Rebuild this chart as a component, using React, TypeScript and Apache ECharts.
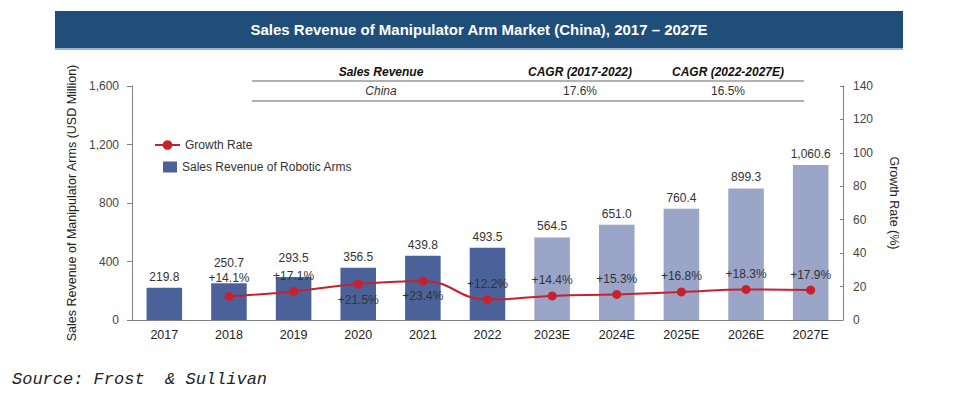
import React, { useEffect, useRef } from "react";
import * as echarts from "echarts";

const categories = ["2017", "2018", "2019", "2020", "2021", "2022", "2023E", "2024E", "2025E", "2026E", "2027E"];
const revenue = [219.8, 250.7, 293.5, 356.5, 439.8, 493.5, 564.5, 651.0, 760.4, 899.3, 1060.6];
const growth: (number | null)[] = [null, 14.1, 17.1, 21.5, 23.4, 12.2, 14.4, 15.3, 16.8, 18.3, 17.9];
const growthLabelPos = ["top", "top", "top", "bottom", "bottom", "top", "top", "top", "top", "top", "top"];
const isForecast = [false, false, false, false, false, false, true, true, true, true, true];
const revenueLabelLift = [5, 14, 13, 5, 5, 5, 5, 5, 5, 5, 5];
const growthLabelLift = [5, 8, 5, 5, 5, 5, 5, 5, 5, 5, 5];
const tableHeader = ["Sales Revenue", "CAGR (2017-2022)", "CAGR (2022-2027E)"];
const tableRow = ["China", "17.6%", "16.5%"];
const titleText = "Sales Revenue of Manipulator Arm Market (China), 2017 \u2013 2027E";
const sourceText = "Source: Frost  & Sullivan";

const ACTUAL = "#4A6299";
const FORECAST = "#9AA5C8";
const RED = "#C8202F";
const FONT = "Liberation Sans, Arial, sans-serif";

export default function App() {
  const ref = useRef<HTMLDivElement>(null);
  useEffect(() => {
    if (!ref.current) return;
    const chart = echarts.init(ref.current, undefined, { renderer: "svg" });
    const colX = [381, 580, 728];
    const option: any = {
      animation: false,
      textStyle: { fontFamily: FONT },
      grid: { left: 132, right: 111, top: 86, bottom: 76 },
      legend: [
        {
          data: [{ name: "Growth Rate" }],
          orient: "vertical",
          left: 154,
          top: 139,
          padding: 0,
          itemWidth: 25,
          itemHeight: 12,
          itemGap: 5,
          textStyle: { fontSize: 12, color: "#333", fontFamily: FONT },
        },
        {
          data: [{ name: "Sales Revenue of Robotic Arms", icon: "rect" }],
          orient: "vertical",
          left: 163,
          top: 161,
          padding: 0,
          itemWidth: 14,
          itemHeight: 11,
          itemGap: 5,
          textStyle: { fontSize: 12, color: "#333", fontFamily: FONT },
        },
      ],
      xAxis: {
        type: "category",
        data: categories,
        axisLine: { lineStyle: { color: "#808080" } },
        axisTick: { show: false },
        axisLabel: { color: "#222", fontSize: 12.5, margin: 8, fontFamily: FONT },
      },
      yAxis: [
        {
          type: "value",
          min: 0,
          max: 1600,
          interval: 400,
          name: "Sales Revenue of Manipulator Arms (USD Million)",
          nameLocation: "middle",
          nameGap: 53,
          nameTextStyle: { fontSize: 12.5, color: "#222", fontFamily: FONT },
          axisLine: { show: true, lineStyle: { color: "#808080" } },
          axisTick: { show: true, length: 5, lineStyle: { color: "#808080" } },
          splitLine: { show: false },
          axisLabel: {
            color: "#444",
            fontSize: 12,
            margin: 13,
            fontFamily: FONT,
            formatter: (v: number) => v.toLocaleString("en-US"),
          },
        },
        {
          type: "value",
          min: 0,
          max: 140,
          interval: 20,
          position: "right",
          name: "Growth Rate (%)",
          nameLocation: "middle",
          nameGap: 44,
          nameRotate: -90,
          nameTextStyle: { fontSize: 12.5, color: "#222", fontFamily: FONT },
          axisLine: { show: true, lineStyle: { color: "#808080" } },
          axisTick: { show: true, inside: true, length: 3, lineStyle: { color: "#808080" } },
          splitLine: { show: false },
          axisLabel: { color: "#444", fontSize: 12, margin: 10, fontFamily: FONT },
        },
      ],
      series: [
        {
          name: "Sales Revenue of Robotic Arms",
          type: "bar",
          barWidth: "55%",
          itemStyle: { color: ACTUAL },
          data: revenue.map((v, i) => ({
            value: v,
            itemStyle: { color: isForecast[i] ? FORECAST : ACTUAL },
            label: { distance: revenueLabelLift[i] },
          })),
          label: {
            show: true,
            position: "top",
            color: "#333",
            fontSize: 12,
            fontFamily: FONT,
            formatter: (p: any) =>
              Number(p.value).toLocaleString("en-US", { minimumFractionDigits: 1, maximumFractionDigits: 1 }),
          },
          z: 1,
        },
        {
          name: "Growth Rate",
          type: "line",
          yAxisIndex: 1,
          smooth: 0.45,
          symbol: "circle",
          symbolSize: 9,
          lineStyle: { color: RED, width: 2 },
          itemStyle: { color: RED },
          data: growth.map((v, i) => ({
            value: v,
            label: { position: growthLabelPos[i], distance: growthLabelLift[i] },
          })),
          label: {
            show: true,
            color: "#333",
            fontSize: 12,
            fontFamily: FONT,
            formatter: (p: any) => "+" + Number(p.value).toFixed(1) + "%",
          },
          z: 3,
        },
      ],
      graphic: [
        { type: "rect", shape: { x: 55, y: 11, width: 848, height: 37 }, style: { fill: "#1F4E79" }, silent: true },
        { type: "rect", shape: { x: 55, y: 48, width: 848, height: 2 }, style: { fill: "#9DB3D6" }, silent: true },
        {
          type: "text",
          x: 479,
          y: 29.5,
          style: {
            text: titleText,
            fill: "#fff",
            font: `bold 15px ${FONT}`,
            align: "center",
            verticalAlign: "middle",
          },
        },
        ...tableHeader.map((t, i) => ({
          type: "text",
          x: colX[i],
          y: 72,
          style: { text: t, fill: "#111", font: `italic bold 12px ${FONT}`, align: "center", verticalAlign: "middle" },
        })),
        ...tableRow.map((t, i) => ({
          type: "text",
          x: colX[i],
          y: 91,
          style: {
            text: t,
            fill: "#333",
            font: `${i === 0 ? "italic " : ""}12px ${FONT}`,
            align: "center",
            verticalAlign: "middle",
          },
        })),
        { type: "line", shape: { x1: 252, y1: 81, x2: 804, y2: 81 }, style: { stroke: "#666", lineWidth: 1.2 } },
        { type: "line", shape: { x1: 252, y1: 101, x2: 804, y2: 101 }, style: { stroke: "#666", lineWidth: 1.2 } },
        {
          type: "text",
          x: 12,
          y: 379,
          style: {
            text: sourceText,
            fill: "#222",
            font: `italic 17px "Liberation Mono", "DejaVu Sans Mono", monospace`,
            align: "left",
            verticalAlign: "middle",
          },
        },
      ],
    };
    chart.setOption(option);
    return () => chart.dispose();
  }, []);
  return (
    <div
      ref={ref}
      style={{ position: "fixed", left: 0, top: 0, width: 954, height: 396, background: "#fff" }}
    />
  );
}
